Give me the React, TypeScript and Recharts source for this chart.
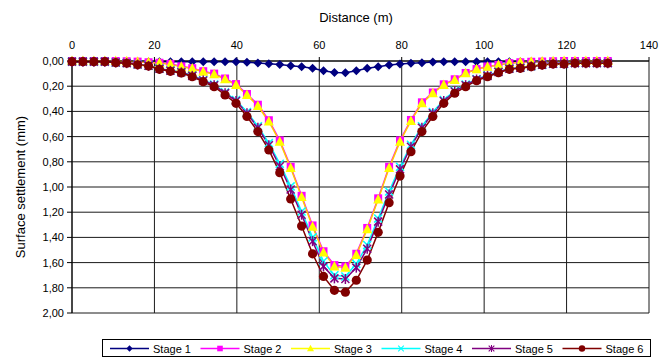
import React from "react";
import { CartesianGrid, Line, LineChart, XAxis, YAxis } from "recharts";

const distance = [
  0, 2.65, 5.31, 7.96, 10.61, 13.27, 15.92, 18.57, 21.22, 23.88, 26.53, 29.18,
  31.84, 34.49, 37.14, 39.8, 42.45, 45.1, 47.76, 50.41, 53.06, 55.71, 58.37,
  61.02, 63.67, 66.33, 68.98, 71.63, 74.29, 76.94, 79.59, 82.24, 84.9, 87.55,
  90.2, 92.86, 95.51, 98.16, 100.82, 103.47, 106.12, 108.78, 111.43, 114.08,
  116.73, 119.39, 122.04, 124.69, 127.35, 130,
];

const stage1 = [
  0.005, 0.005, 0.005, 0.005, 0.005, 0.005, 0.005, 0.005, 0.005, 0.005, 0.005,
  0.005, 0.005, 0.005, 0.005, 0.005, 0.01, 0.015, 0.022, 0.028, 0.038, 0.045,
  0.058, 0.078, 0.092, 0.093, 0.078, 0.058, 0.045, 0.032, 0.024, 0.018, 0.013,
  0.008, 0.005, 0.005, 0.005, 0.005, 0.005, 0.005, 0.005, 0.005, 0.005, 0.005,
  0.005, 0.005, 0.005, 0.005, 0.005, 0.005,
];

const stage2 = [
  0, 0, 0, 0, 0, 0.002, 0.005, 0.01, 0.014, 0.023, 0.042, 0.057, 0.081, 0.1,
  0.139, 0.183, 0.262, 0.347, 0.47, 0.63, 0.84, 1.07, 1.305, 1.51, 1.62, 1.63,
  1.53, 1.325, 1.09, 0.84, 0.63, 0.468, 0.328, 0.25, 0.185, 0.145, 0.095, 0.064,
  0.043, 0.031, 0.017, 0.01, 0.006, 0.004, 0.002, 0, 0, 0, 0, 0,
];

const stage3 = [
  0, 0, 0, 0, 0, 0.002, 0.005, 0.01, 0.015, 0.025, 0.045, 0.06, 0.085, 0.105,
  0.145, 0.19, 0.27, 0.357, 0.48, 0.64, 0.85, 1.08, 1.315, 1.52, 1.63, 1.64,
  1.54, 1.335, 1.1, 0.85, 0.64, 0.476, 0.336, 0.256, 0.19, 0.15, 0.098, 0.066,
  0.045, 0.032, 0.018, 0.01, 0.006, 0.004, 0.002, 0, 0, 0, 0, 0,
];

const stage4 = [
  0.005, 0.005, 0.005, 0.005, 0.012, 0.016, 0.027, 0.037, 0.06, 0.076, 0.088,
  0.115, 0.151, 0.187, 0.249, 0.31, 0.405, 0.518, 0.652, 0.815, 0.995, 1.195,
  1.4, 1.59, 1.7, 1.71, 1.61, 1.46, 1.25, 1.035, 0.84, 0.665, 0.518, 0.405,
  0.31, 0.236, 0.187, 0.143, 0.115, 0.086, 0.06, 0.053, 0.041, 0.029, 0.022,
  0.021, 0.016, 0.016, 0.016, 0.016,
];

const stage5 = [
  0.005, 0.005, 0.005, 0.005, 0.012, 0.017, 0.028, 0.038, 0.062, 0.078, 0.09,
  0.118, 0.155, 0.192, 0.255, 0.318, 0.415, 0.53, 0.668, 0.835, 1.02, 1.22,
  1.43, 1.63, 1.725, 1.73, 1.64, 1.49, 1.275, 1.06, 0.86, 0.68, 0.53, 0.415,
  0.318, 0.242, 0.192, 0.147, 0.118, 0.088, 0.062, 0.054, 0.042, 0.03, 0.022,
  0.022, 0.017, 0.017, 0.017, 0.017,
];

const stage6 = [
  0.005, 0.005, 0.005, 0.005, 0.013, 0.018, 0.03, 0.04, 0.066, 0.082, 0.095,
  0.125, 0.164, 0.204, 0.27, 0.336, 0.44, 0.56, 0.706, 0.886, 1.095, 1.31,
  1.53, 1.71, 1.82, 1.835, 1.74, 1.58, 1.36, 1.125, 0.913, 0.72, 0.56, 0.44,
  0.336, 0.256, 0.204, 0.156, 0.125, 0.093, 0.066, 0.058, 0.045, 0.032, 0.024,
  0.024, 0.018, 0.018, 0.018, 0.018,
];

const xTicks = [0, 20, 40, 60, 80, 100, 120, 140];
const yTicks = [0, 0.2, 0.4, 0.6, 0.8, 1.0, 1.2, 1.4, 1.6, 1.8, 2.0];

const data = distance.map((d, i) => ({
  distance: d,
  s1: stage1[i],
  s2: stage2[i],
  s3: stage3[i],
  s4: stage4[i],
  s5: stage5[i],
  s6: stage6[i],
}));

const FONT = "'Liberation Sans', Arial, sans-serif";

type Shape = "diamond" | "square" | "triangle" | "x" | "star" | "circle";

function Marker({ shape, cx, cy, color }: { shape: Shape; cx: number; cy: number; color: string }) {
  switch (shape) {
    case "diamond":
      return (
        <polygon
          points={`${cx},${cy - 4.5} ${cx + 4.5},${cy} ${cx},${cy + 4.5} ${cx - 4.5},${cy}`}
          fill={color}
        />
      );
    case "square":
      return <rect x={cx - 4} y={cy - 4} width={8} height={8} fill={color} />;
    case "triangle":
      return (
        <polygon
          points={`${cx},${cy - 5.5} ${cx + 5},${cy + 4} ${cx - 5},${cy + 4}`}
          fill={color}
        />
      );
    case "x":
      return (
        <g stroke={color} strokeWidth={1.5}>
          <line x1={cx - 4} y1={cy - 4} x2={cx + 4} y2={cy + 4} />
          <line x1={cx - 4} y1={cy + 4} x2={cx + 4} y2={cy - 4} />
        </g>
      );
    case "star":
      return (
        <g stroke={color} strokeWidth={1.5}>
          <line x1={cx - 4} y1={cy - 4} x2={cx + 4} y2={cy + 4} />
          <line x1={cx - 4} y1={cy + 4} x2={cx + 4} y2={cy - 4} />
          <line x1={cx} y1={cy - 5} x2={cx} y2={cy + 5} />
        </g>
      );
    default:
      return <circle cx={cx} cy={cy} r={4.6} fill={color} />;
  }
}

const series: { key: string; name: string; color: string; line: string; shape: Shape }[] = [
  { key: "s1", name: "Stage 1", color: "#000080", line: "#000080", shape: "diamond" },
  { key: "s2", name: "Stage 2", color: "#FF00FF", line: "#FF00FF", shape: "square" },
  { key: "s3", name: "Stage 3", color: "#FFFF00", line: "#FFCC00", shape: "triangle" },
  { key: "s4", name: "Stage 4", color: "#00FFFF", line: "#00FFFF", shape: "x" },
  { key: "s5", name: "Stage 5", color: "#800080", line: "#800080", shape: "star" },
  { key: "s6", name: "Stage 6", color: "#800000", line: "#800000", shape: "circle" },
];

function LegendBox() {
  return (
    <svg
      width={550}
      height={19}
      style={{ position: "absolute", left: 102, top: 339 }}
    >
      <rect x={0.5} y={0.5} width={548} height={17} fill="#fff" stroke="#000" />
      {series.map((s, i) => {
        const x0 = 8 + i * 90.5;
        return (
          <g key={s.key}>
            <line x1={x0} y1={9.5} x2={x0 + 39} y2={9.5} stroke={s.color} strokeWidth={1.5} />
            <g transform={`translate(${x0 + 19.5},9.5) scale(0.7) translate(${-(x0 + 19.5)},-9.5)`}>
              <Marker shape={s.shape} cx={x0 + 19.5} cy={9.5} color={s.color} />
            </g>
            <text x={x0 + 43} y={13.5} fontSize={11} fontFamily={FONT} fill="#000">
              {s.name}
            </text>
          </g>
        );
      })}
    </svg>
  );
}

export default function App() {
  return (
    <div style={{ position: "absolute", left: 0, top: 0, width: 671, height: 358, background: "#fff" }}>
      <LineChart
        width={671}
        height={358}
        data={data}
        margin={{ top: 31, right: 22, bottom: 45, left: 10 }}
      >
        <CartesianGrid stroke="#1a1a1a" strokeWidth={1} />
        <XAxis
          type="number"
          dataKey="distance"
          orientation="top"
          domain={[0, 140]}
          ticks={xTicks}
          height={30}
          tickSize={4}
          tickMargin={8}
          axisLine={{ stroke: "#000" }}
          tickLine={{ stroke: "#000" }}
          tick={{ fill: "#000", fontSize: 11, fontFamily: FONT }}
        />
        <YAxis
          type="number"
          reversed
          domain={[0, 2]}
          ticks={yTicks}
          width={62}
          tickSize={5}
          tickMargin={3}
          tickFormatter={(v: number) => v.toFixed(2).replace(".", ",")}
          axisLine={{ stroke: "#000" }}
          tickLine={{ stroke: "#000" }}
          tick={{ fill: "#000", fontSize: 11, fontFamily: FONT }}
        />
        {series.map((s) => (
          <Line
            key={s.key}
            dataKey={s.key}
            name={s.name}
            stroke={s.line}
            strokeWidth={1.5}
            isAnimationActive={false}
            dot={(p: any) => (
              <Marker key={`${s.key}-${p.index}`} shape={s.shape} cx={p.cx} cy={p.cy} color={s.color} />
            )}
            activeDot={false}
          />
        ))}
      </LineChart>
      <svg width={671} height={358} style={{ position: "absolute", left: 0, top: 0, pointerEvents: "none" }}>
        <text x={356} y={22} textAnchor="middle" fontSize={13} fontFamily={FONT} fill="#000">
          Distance (m)
        </text>
        <text
          x={0}
          y={0}
          transform="translate(25,187) rotate(-90)"
          textAnchor="middle"
          fontSize={13}
          fontFamily={FONT}
          fill="#000"
        >
          Surface settlement (mm)
        </text>
      </svg>
      <LegendBox />
    </div>
  );
}
